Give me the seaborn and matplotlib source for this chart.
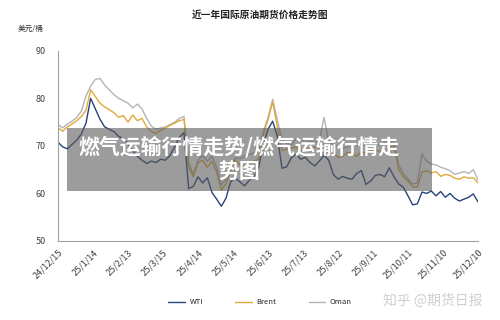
import seaborn as sns
import matplotlib.pyplot as plt
from matplotlib.patches import Rectangle
from matplotlib.lines import Line2D
import pandas as pd

# sample dates: every 4 days starting 2024-12-15
start = pd.Timestamp('2024-12-15')
day_offsets = list(range(0, 361, 4))

wti = [70.8, 69.8, 69.4, 70.3, 71.2, 72.5, 74.8, 80.0, 77.8, 75.6,
       74.0, 73.5, 73.0, 72.0, 71.5, 70.5, 69.0, 67.8, 67.0, 66.3,
       66.8, 66.5, 67.2, 67.0, 68.0, 69.8, 71.8, 72.8, 61.0, 61.5,
       63.5, 62.2, 63.3, 60.2, 58.8, 57.3, 59.0, 62.5, 63.2, 62.4,
       61.6, 62.8, 63.5, 65.5, 70.5, 73.5, 75.2, 72.0, 65.3, 65.6,
       67.5, 68.3, 67.2, 67.6, 66.5, 65.8, 66.8, 68.0, 67.0, 64.0,
       63.0, 63.6, 63.2, 63.0, 64.2, 64.8, 61.9, 62.6, 63.8, 64.0,
       63.5, 65.4, 63.5, 62.0, 61.3, 59.5, 57.6, 57.8, 60.3, 60.0,
       60.5, 59.5, 60.4, 59.2, 60.0, 59.0, 58.4, 58.8, 59.2, 59.9, 58.2]

brent = [73.8, 73.1, 74.0, 74.6, 75.3, 76.2, 77.5, 81.8, 80.4, 79.0,
         78.2, 77.6, 77.0, 76.0, 76.4, 75.0, 76.5, 75.3, 75.8, 74.0,
         73.0, 72.6, 73.3, 73.8, 74.3, 74.8, 75.3, 75.6, 65.5, 63.5,
         66.5, 67.0, 65.5, 66.8, 64.5, 60.7, 62.0, 65.0, 67.0, 66.0,
         65.5, 66.5, 66.8, 67.2, 72.5, 75.5, 79.3, 74.0, 69.0, 69.3,
         69.5, 69.8, 69.0, 69.5, 69.3, 69.8, 69.6, 69.8, 69.2, 68.5,
         67.6, 67.8, 68.6, 68.5, 67.8, 68.7, 68.5, 68.6, 69.2, 68.8,
         68.6, 69.6, 70.0, 65.0, 63.5, 62.6, 61.4, 61.3, 64.5, 64.8,
         64.3, 64.6, 63.6, 64.0, 63.8, 63.2, 63.0, 63.5, 63.2, 63.3, 62.2]

oman = [74.5, 73.8, 74.6, 75.2, 76.0, 77.3, 80.5, 82.6, 84.0, 84.2,
        82.8, 81.8, 80.8, 80.0, 79.5, 79.0, 78.0, 78.8, 77.8, 75.8,
        74.2, 73.5, 73.8, 74.0, 74.5, 75.0, 75.8, 76.2, 66.5, 64.0,
        67.0, 68.0, 66.8, 67.8, 65.5, 61.8, 63.0, 65.8, 67.5, 67.3,
        67.8, 68.2, 68.5, 68.8, 73.0, 76.0, 79.8, 75.5, 71.3, 70.5,
        70.2, 71.5, 71.0, 71.3, 71.0, 70.8, 71.2, 76.0, 71.0, 70.3,
        69.8, 69.5, 69.8, 70.2, 70.0, 70.5, 70.0, 70.3, 70.6, 70.2,
        70.8, 71.2, 70.8, 66.0, 64.2, 63.0, 62.0, 62.2, 68.3, 66.8,
        66.2, 66.0, 65.5, 65.2, 64.8, 64.0, 64.3, 64.6, 64.2, 65.0, 62.8]

series_names = ['WTI', 'Brent', 'Oman']
colors = {'WTI': '#27427c', 'Brent': '#e0aa3a', 'Oman': '#b4b4b4'}

dates = [start + pd.Timedelta(days=d) for d in day_offsets]
df = pd.DataFrame({'date': dates, 'WTI': wti, 'Brent': brent, 'Oman': oman})
long_df = df.melt(id_vars='date', var_name='series', value_name='price')

tick_dates = [start + pd.Timedelta(days=30 * i) for i in range(13)]

sns.set_style('white')
plt.rcParams['font.family'] = ['Noto Sans CJK SC', 'DejaVu Sans']

fig = plt.figure(figsize=(5, 3.2), dpi=100)
ax = fig.add_axes([0.116, 0.247, 0.84, 0.594])

sns.lineplot(data=long_df, x='date', y='price', hue='series',
             hue_order=['Oman', 'Brent', 'WTI'], palette=colors,
             linewidth=1.0, ax=ax, legend=False)

ax.set_xlim(tick_dates[0], tick_dates[-1])
ax.set_ylim(50, 90)
ax.set_yticks([50, 60, 70, 80, 90])
ax.set_xticks(tick_dates)
ax.set_xticklabels([d.strftime('%y/%-m/%-d') for d in tick_dates],
                   rotation=45, ha='right', rotation_mode='anchor')
ax.tick_params(axis='x', direction='in', length=3, color='#a0a0a0',
               labelsize=6.5, labelcolor='#404040', pad=5)
ax.tick_params(axis='y', direction='out', length=3, color='#a0a0a0',
               labelsize=6.5, labelcolor='#404040', pad=6)
ax.set_xlabel('')
ax.set_ylabel('')
for side in ['top', 'right']:
    ax.spines[side].set_visible(False)
for side in ['left', 'bottom']:
    ax.spines[side].set_color('#a0a0a0')
    ax.spines[side].set_linewidth(0.8)

# title and unit
fig.text(0.52, 0.955, '近一年国际原油期货价格走势图', ha='center', va='center',
         fontsize=7, fontweight='bold', color='#222222')
fig.text(0.036, 0.91, '美元/桶', ha='left', va='center', fontsize=5.5, color='#333333')

# legend at the bottom
handles = [Line2D([0], [0], color=colors[n], lw=1.0) for n in series_names]
fig.legend(handles, series_names, loc='center', bbox_to_anchor=(0.52, 0.055),
           ncol=3, frameon=False, fontsize=5.5, columnspacing=4.2, handlelength=2.2,
           handletextpad=0.6)

# grey overlay banner
fig.patches.append(Rectangle((0.134, 0.403), 0.73, 0.197, transform=fig.transFigure,
                             facecolor='#5a5a5a', alpha=0.6, edgecolor='none', zorder=5))
fig.text(0.478, 0.542, '燃气运输行情走势/燃气运输行情走', ha='center', va='center',
         fontsize=15, fontweight='bold', color='white', zorder=6)
fig.text(0.478, 0.466, '势图', ha='center', va='center',
         fontsize=15, fontweight='bold', color='white', zorder=6)

# watermark
fig.text(0.865, 0.06, '知乎 @期货日报', ha='center', va='center',
         fontsize=10, color='#cfcfcf')

fig.savefig('out.png', dpi=100)
